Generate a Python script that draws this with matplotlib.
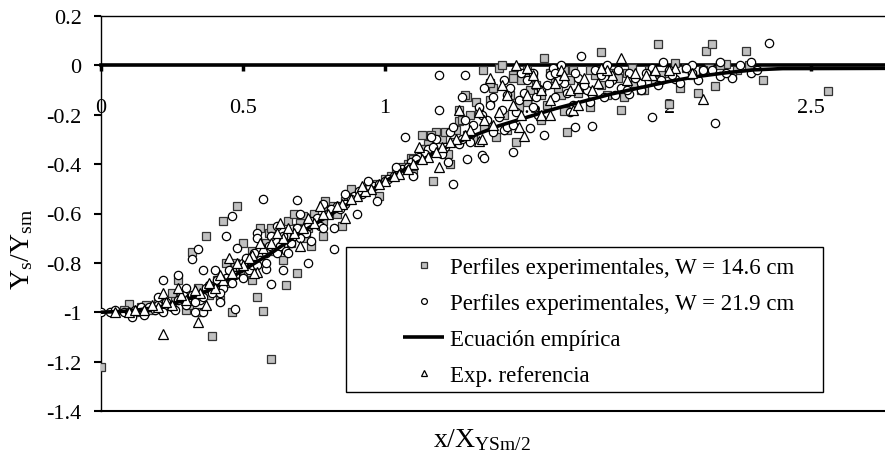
import matplotlib
matplotlib.use("Agg")
import matplotlib.pyplot as plt
from matplotlib.patches import Rectangle

# --- Data ---
# Perfiles experimentales, W = 14.6 cm
sq_x = [0.0, 0.39, 0.60, 0.57, 0.55, 0.65, 0.69, 0.37, 0.43, 0.48, 0.32, 0.27, 0.46,
        1.345, 1.40, 1.45, 1.38, 1.29, 1.26, 1.26, 1.13, 1.18, 1.14, 1.09, 1.17, 1.39, 1.46, 0.93, 1.36,
        1.96, 1.76, 1.56, 1.41, 1.80, 1.91, 2.04, 2.10, 1.83, 2.00, 1.64, 1.63, 1.78, 1.69, 1.97, 1.51, 1.58,
        2.13, 2.15, 2.27, 2.14, 2.16, 2.33, 2.56, 2.20, 0.10, 0.56, 0.66, 0.71, 0.78,
        0.05, 0.14, 0.18, 0.20, 0.24, 0.30, 0.33, 0.36, 0.40, 0.42, 0.45, 0.50, 0.52, 0.58,
        0.63, 0.70, 0.72, 0.76, 0.80, 0.83, 0.86, 0.90, 0.95, 1.00, 1.04, 1.08, 1.12, 1.15,
        1.20, 1.22, 1.25, 1.30, 1.32, 1.35, 1.42, 1.48, 1.50, 1.53, 1.60, 1.62, 1.66, 1.70,
        1.74, 1.85, 1.88, 1.93, 2.00, 2.06, 2.24,
        0.08, 0.12, 0.16, 0.22, 0.26, 0.28, 0.31, 0.34, 0.38, 0.41, 0.44, 0.47, 0.49, 0.53,
        0.55, 0.59, 0.61, 0.64, 0.67, 0.69, 0.73, 0.75, 0.78, 0.81, 0.84, 0.87, 0.92, 0.97,
        1.02, 1.06, 1.10, 1.14, 1.18, 1.21, 1.24, 1.27, 1.29, 1.33, 1.37, 1.44, 1.47, 1.52,
        1.55, 1.57, 1.61, 1.65, 1.68, 1.72, 1.76, 1.82, 1.87, 1.90, 1.95, 2.02, 2.08, 2.12,
        2.18, 2.22, 2.28,
        0.25, 0.35, 0.44, 0.50, 0.53, 0.60, 0.64, 0.68, 0.74, 0.79, 0.85, 0.88, 0.98, 1.10,
        1.16, 1.23, 1.28, 1.31, 1.37, 1.43, 1.50, 1.55, 1.63, 1.72, 1.84, 1.45]
sq_y = [-1.22, -1.095, -1.19, -0.995, -0.94, -0.89, -0.84, -0.69, -0.63, -0.57, -0.755, -0.87, -1.0,
        -0.02, -0.01, -0.04, -0.09, -0.13, -0.18, -0.225, -0.28, -0.27, -0.34, -0.375, -0.47, -0.29, -0.31, -0.50, -0.23,
        0.087, 0.055, 0.03, 0.0, -0.03, -0.10, -0.09, -0.11, -0.18, -0.155, -0.27, -0.185, -0.12, -0.07, -0.04, -0.10, -0.03,
        0.06, 0.085, 0.06, -0.01, -0.085, -0.06, -0.105, 0.005, -0.965, -0.66, -0.63, -0.61, -0.69,
        -1.0, -0.98, -0.99, -0.96, -0.97, -0.99, -0.94, -0.92, -0.90, -0.95, -0.86, -0.84, -0.78, -0.72,
        -0.74, -0.64, -0.70, -0.62, -0.58, -0.60, -0.55, -0.52, -0.50, -0.46, -0.43, -0.40, -0.36, -0.32,
        -0.30, -0.36, -0.26, -0.20, -0.15, -0.25, -0.20, -0.06, -0.15, -0.08, -0.05, -0.12, -0.02, -0.09,
        -0.04, -0.03, -0.07, -0.02, -0.03, -0.01, -0.02,
        -0.99, -1.0, -0.97, -0.98, -0.95, -0.93, -0.97, -0.90, -0.93, -0.87, -0.88, -0.80, -0.83, -0.75,
        -0.80, -0.68, -0.75, -0.70, -0.72, -0.66, -0.66, -0.60, -0.63, -0.57, -0.57, -0.53, -0.51, -0.48,
        -0.45, -0.41, -0.38, -0.34, -0.35, -0.27, -0.31, -0.22, -0.28, -0.18, -0.14, -0.12, -0.17, -0.04,
        -0.12, -0.16, -0.09, -0.06, -0.11, -0.02, -0.08, -0.05, -0.01, -0.10, -0.06, 0.01, -0.04, -0.02,
        0.0, -0.04, 0.0,
        -0.92, -1.0, -0.80, -0.72, -0.87, -0.66, -0.79, -0.60, -0.73, -0.55, -0.65, -0.50, -0.53, -0.44,
        -0.28, -0.40, -0.12, -0.30, -0.07, -0.26, -0.02, -0.22, -0.02, -0.17, -0.13, -0.05]

# Perfiles experimentales, W = 21.9 cm
ci_x = [0.0, 0.34, 0.32, 0.44, 0.22, 0.27, 0.36, 0.47, 0.36, 0.60, 0.64, 0.58, 0.55, 0.11,
        0.57, 0.69, 0.46, 0.82, 0.73,
        1.19, 1.28, 1.19, 1.07, 1.24, 1.34, 1.35, 1.29, 1.45, 1.42,
        1.69, 1.62, 1.56, 1.67, 1.73, 1.94, 1.51, 1.43, 1.86, 1.98, 2.08, 2.02,
        2.35, 2.16, 2.29, 2.29, 2.18, 2.18, 2.08,
        0.03, 0.08, 0.12, 0.15, 0.17, 0.20, 0.22, 0.25, 0.27, 0.30, 0.32, 0.35, 0.37, 0.39,
        0.41, 0.43, 0.45, 0.47, 0.50, 0.52, 0.54, 0.56, 0.59, 0.62, 0.64, 0.67, 0.69, 0.72,
        0.74, 0.77, 0.80, 0.83, 0.86, 0.89, 0.92, 0.96, 1.00, 1.03, 1.06, 1.09, 1.12, 1.15,
        1.18, 1.20, 1.23, 1.26, 1.28, 1.30, 1.33, 1.36, 1.38, 1.41, 1.44, 1.47, 1.50, 1.52,
        1.55, 1.58, 1.60, 1.63, 1.66, 1.68, 1.71, 1.74, 1.77, 1.80, 1.83, 1.86, 1.90, 1.94,
        1.97, 2.00, 2.04, 2.12, 2.22,
        0.05, 0.10, 0.14, 0.19, 0.23, 0.26, 0.29, 0.33, 0.36, 0.38, 0.42, 0.44, 0.46, 0.49,
        0.51, 0.53, 0.55, 0.58, 0.60, 0.63, 0.65, 0.68, 0.70, 0.73, 0.76, 0.78, 0.81, 0.84,
        0.88, 0.91, 0.94, 0.98, 1.01, 1.05, 1.08, 1.11, 1.14, 1.17, 1.21, 1.24, 1.27, 1.31,
        1.34, 1.37, 1.40, 1.43, 1.46, 1.49, 1.53, 1.57, 1.61, 1.64, 1.67, 1.70, 1.73, 1.76,
        1.79, 1.82, 1.85, 1.88, 1.92, 1.96, 2.01, 2.06, 2.10, 2.15, 2.20, 2.25, 2.31,
        0.20, 0.30, 0.33, 0.40, 0.42, 0.48, 0.50, 0.55, 0.58, 0.62, 0.66, 0.70, 0.74, 0.78,
        0.82, 0.86, 0.90, 0.94, 0.97, 1.04, 1.10, 1.16, 1.22, 1.27, 1.30, 1.35, 1.38, 1.42,
        1.45, 1.48, 1.54, 1.59, 1.65, 1.72, 1.78, 1.81, 1.90, 1.52, 1.60]
ci_y = [-1.0, -0.745, -0.785, -0.69, -0.87, -0.85, -0.83, -0.985, -1.0, -0.885, -0.83, -0.825, -0.68, -1.02,
        -0.54, -0.545, -0.61, -0.745, -0.80,
        -0.04, -0.04, -0.18, -0.29, -0.48, -0.365, -0.375, -0.38, -0.35, -0.26,
        0.04, 0.0, -0.28, -0.25, -0.245, -0.21, -0.255, -0.25, -0.115, 0.015, 0.0, -0.055,
        0.09, -0.235, 0.015, -0.03, 0.015, -0.045, -0.03,
        -1.0, -1.0, -0.99, -1.01, -0.98, -0.97, -1.0, -0.98, -0.95, -0.97, -0.93, -0.95, -0.90, -0.92,
        -0.87, -0.90, -0.83, -0.85, -0.80, -0.83, -0.76, -0.79, -0.73, -0.76, -0.69, -0.72, -0.66, -0.68,
        -0.63, -0.65, -0.60, -0.57, -0.56, -0.53, -0.52, -0.49, -0.47, -0.45, -0.42, -0.39, -0.37, -0.34,
        -0.30, -0.36, -0.27, -0.32, -0.22, -0.28, -0.17, -0.22, -0.13, -0.18, -0.09, -0.14, -0.06, -0.17,
        -0.10, -0.04, -0.13, -0.07, -0.16, -0.05, -0.10, -0.02, -0.13, -0.06, -0.09, -0.03, -0.07, -0.01,
        -0.06, -0.02, -0.07, -0.02, -0.05,
        -0.99, -1.0, -0.98, -0.99, -0.96, -0.99, -0.93, -0.96, -0.94, -0.89, -0.92, -0.86, -0.88, -0.82,
        -0.78, -0.81, -0.81, -0.76, -0.69, -0.73, -0.75, -0.69, -0.70, -0.65, -0.62, -0.66, -0.58, -0.58,
        -0.54, -0.51, -0.50, -0.48, -0.46, -0.43, -0.41, -0.38, -0.36, -0.33, -0.33, -0.25, -0.30, -0.24,
        -0.20, -0.16, -0.21, -0.12, -0.19, -0.11, -0.13, -0.08, -0.06, -0.11, -0.03, -0.08, -0.12, -0.04,
        -0.07, -0.02, -0.10, -0.05, -0.03, -0.08, -0.04, -0.01, -0.06, -0.02, -0.03, 0.0, -0.02,
        -0.94, -0.90, -1.00, -0.83, -0.96, -0.74, -0.86, -0.70, -0.80, -0.65, -0.76, -0.60, -0.71, -0.56,
        -0.66, -0.52, -0.60, -0.47, -0.55, -0.41, -0.45, -0.29, -0.39, -0.13, -0.31, -0.09, -0.27, -0.06,
        -0.24, -0.03, -0.20, -0.01, -0.19, -0.15, 0.0, -0.12, -0.10, -0.03, -0.03]

# Ecuación empírica
eq_x = [0, 0.1, 0.2, 0.3, 0.4, 0.5, 0.6, 0.7, 0.8, 0.9, 1.0, 1.1, 1.2, 1.3, 1.4, 1.5,
        1.6, 1.7, 1.8, 1.9, 2.0, 2.1, 2.2, 2.3, 2.4, 2.76]
eq_y = [-1.0, -0.995, -0.98, -0.95, -0.90, -0.83, -0.76, -0.68, -0.61, -0.54, -0.47, -0.40,
        -0.34, -0.29, -0.245, -0.21, -0.175, -0.145, -0.115, -0.09, -0.065, -0.045, -0.03,
        -0.018, -0.013, -0.012]

# Exp. referencia
tr_x = [0.22, 0.34, 0.22, 0.55, 1.83, 1.49, 1.66, 1.55, 1.94, 2.12, 1.46, 1.33,
        0.10, 0.15, 0.20, 0.25, 0.30, 0.35, 0.40, 0.43, 0.46, 0.50, 0.53, 0.57, 0.60, 0.64,
        0.68, 0.71, 0.75, 0.80, 0.85, 0.90, 0.95, 1.00, 1.05, 1.10, 1.15, 1.20, 1.25, 1.30,
        1.35, 1.40, 1.45, 1.50, 1.55, 1.60, 1.65, 1.70, 1.75, 1.80, 1.88, 1.95, 2.02, 1.37, 1.62,
        0.05, 0.12, 0.18, 0.23, 0.28, 0.33, 0.38, 0.42, 0.48, 0.52, 0.56, 0.62, 0.66, 0.73,
        0.78, 0.83, 0.88, 0.93, 0.98, 1.03, 1.08, 1.13, 1.18, 1.23, 1.28, 1.33, 1.38, 1.43,
        1.48, 1.53, 1.58, 1.63, 1.68, 1.73, 1.78, 1.85, 1.92, 2.00, 2.08,
        0.27, 0.37, 0.45, 0.54, 0.63, 0.70, 0.77, 0.86, 0.92, 1.12, 1.19, 1.26, 1.34, 1.41,
        1.47, 1.52, 1.58, 1.68, 1.76, 1.50]
tr_y = [-1.09, -1.04, -0.92, -0.835, 0.03, -0.285, -0.18, -0.20, -0.04, -0.135, 0.0, -0.305,
        -1.0, -0.99, -0.98, -0.97, -0.95, -0.92, -0.90, -0.87, -0.84, -0.81, -0.77, -0.74, -0.72, -0.70,
        -0.68, -0.66, -0.64, -0.60, -0.56, -0.53, -0.50, -0.47, -0.44, -0.40, -0.37, -0.33, -0.30, -0.26,
        -0.22, -0.19, -0.16, -0.12, -0.10, -0.07, -0.10, -0.05, -0.07, -0.04, -0.03, -0.02, -0.01, -0.05, -0.02,
        -1.0, -0.99, -0.97, -0.96, -0.93, -0.91, -0.88, -0.85, -0.80, -0.78, -0.72, -0.68, -0.66, -0.62,
        -0.60, -0.57, -0.54, -0.51, -0.48, -0.45, -0.42, -0.38, -0.35, -0.31, -0.28, -0.19, -0.24, -0.12,
        -0.20, -0.07, -0.14, -0.04, -0.09, -0.10, -0.02, -0.06, -0.04, -0.02, -0.03,
        -0.90, -0.97, -0.78, -0.84, -0.64, -0.73, -0.57, -0.62, -0.49, -0.33, -0.41, -0.18, -0.30, -0.08,
        -0.25, -0.04, -0.20, -0.16, -0.01, -0.01]

X_TICKS = [0, 0.5, 1, 1.5, 2, 2.5]
X_TICK_LABELS = ["0", "0.5", "1", "1.5", "2", "2.5"]
Y_TICKS = [-1.4, -1.2, -1.0, -0.8, -0.6, -0.4, -0.2, 0, 0.2]
Y_TICK_LABELS = ["-1.4", "-1.2", "-1", "-0.8", "-0.6", "-0.4", "-0.2", "0", "0.2"]

plt.rcParams["font.family"] = ["Liberation Serif", "DejaVu Serif"]
plt.rcParams["mathtext.fontset"] = "custom"
plt.rcParams["mathtext.rm"] = "Liberation Serif"
plt.rcParams["mathtext.it"] = "Liberation Serif:italic"

fig = plt.figure(figsize=(8.85, 4.56), dpi=100)
ax = fig.add_axes([101 / 885, 1 - 412 / 456, 1 - 101 / 885, (412 - 17) / 456])

ms = 6
ax.plot(sq_x, sq_y, ls="none", marker="s", ms=ms, mfc="#c0c0c0", mec="#333333", mew=0.9,
        label="Perfiles experimentales, W = 14.6 cm", zorder=3)
ax.plot(ci_x, ci_y, ls="none", marker="o", ms=ms, mfc="white", mec="black", mew=0.9,
        label="Perfiles experimentales, W = 21.9 cm", zorder=3)
ax.plot(eq_x, eq_y, color="black", lw=2.6, label="Ecuación empírica", zorder=3,
        solid_capstyle="butt")
ax.plot(tr_x, tr_y, ls="none", marker="^", ms=ms + 0.5, mfc="white", mec="black", mew=0.9,
        label="Exp. referencia", zorder=3)

ax.set_xlim(0, 2.76)
ax.set_ylim(-1.4, 0.2)

# x axis crosses at y = 0
ax.spines["bottom"].set_position(("data", 0))
ax.spines["bottom"].set_linewidth(2.6)
ax.spines["right"].set_visible(False)
ax.spines["top"].set_linewidth(1.0)
ax.spines["left"].set_linewidth(1.0)
ax.axhline(-1.4, color="black", lw=1.5, clip_on=False, zorder=1)

ax.set_axisbelow(True)
ax.set_xticks(X_TICKS)
ax.set_xticklabels([])
ax.tick_params(axis="x", direction="out", length=4, width=2.5)
for xt, lab in zip(X_TICKS, X_TICK_LABELS):
    ax.text(xt, -0.17, lab, ha="center", va="center", fontsize=16, zorder=1)

ax.set_yticks(Y_TICKS)
ax.set_yticklabels(Y_TICK_LABELS, fontsize=16)
ax.tick_params(axis="y", direction="out", length=5, width=1.5, pad=9)

fig.text(22 / 885, 1 - 250 / 456, r"$\mathrm{Y_s/Y_{sm}}$", rotation=90, fontsize=20,
         ha="center", va="center")
fig.text(482 / 885, 1 - 447 / 456, r"$\mathrm{x/X_{YSm/2}}$", fontsize=20,
         ha="center", va="baseline")

# legend box
fig.patches.append(Rectangle((346 / 885, 1 - 393 / 456), (823 - 346) / 885, (393 - 248) / 456,
                             transform=fig.transFigure, facecolor="white", edgecolor="black",
                             lw=1.0, zorder=4))
leg = fig.legend(loc="upper left", bbox_to_anchor=(403 / 885, 1 - 258 / 456),
                 frameon=False, fontsize=16.5, borderpad=0, borderaxespad=0,
                 handlelength=1.8, handletextpad=0.25, labelspacing=0.65, markerscale=0.7)
leg.set_zorder(5)

fig.savefig("out.png", dpi=100)
